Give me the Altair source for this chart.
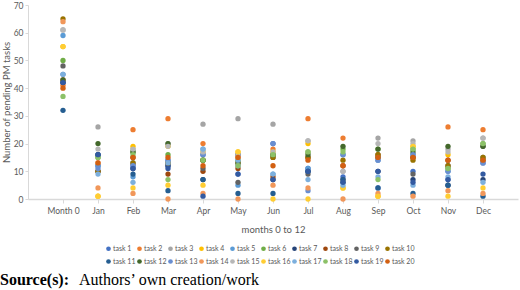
import altair as alt
import pandas as pd

months = ["Month 0", "Jan", "Feb", "Mar", "Apr", "May", "Jun", "Jul", "Aug", "Sep", "Oct", "Nov", "Dec"]
tasks = [f"task {i}" for i in range(1, 21)]
colors = ["#4472C4", "#ED7D31", "#A5A5A5", "#FFC000", "#5B9BD5", "#70AD47", "#264478", "#9E480E",
          "#636363", "#997300", "#255E91", "#43682B", "#698ED0", "#F1975A", "#B7B7B7", "#FFCD33",
          "#7CAFDD", "#8CC168", "#335AA1", "#D26012"]

# values per task, Month 0 .. Dec
task_1 = [42, 12, 12, 12, 16, 9, 20, 11, 8, 4, 10, 7, 13]
task_2 = [41, 13, 25, 29, 20, 15, 18, 29, 22, 15, 15, 26, 25]
task_3 = [61, 26, 18, 20, 27, 29, 27, 21, 10, 22, 21, 18, 22]
task_4 = [55, 1, 19, 19, 17, 17, 17, 20, 4, 1, 19, 16, 15]
task_5 = [59, 12, 8, 14, 18, 5, 9, 11, 16, 14, 16, 10, 15]
task_6 = [50, 15, 17, 16, 14, 14, 16, 17, 18, 18, 18, 11, 20]
task_7 = [42, 16, 11, 12, 7, 16, 7, 10, 6, 10, 7, 5, 7]
task_8 = [43, 10, 15, 9, 10, 11, 8, 15, 12, 16, 15, 14, 14]
task_9 = [48, 10, 13, 13, 11, 6, 15, 9, 7, 15, 9, 12, 19]
task_10 = [65, 10, 13, 13, 14, 13, 15, 15, 14, 16, 14, 12, 15]
task_11 = [32, 16, 9, 3, 7, 2, 2, 10, 7, 4, 2, 5, 1]
task_12 = [43, 20, 17, 20, 14, 13, 16, 16, 19, 18, 17, 19, 19]
task_13 = [45, 11, 12, 14, 16, 12, 20, 3, 16, 14, 16, 10, 13]
task_14 = [64, 4, 2, 0, 2, 0, 5, 4, 0, 2, 1, 3, 2]
task_15 = [61, 18, 18, 19, 17, 16, 17, 21, 10, 20, 20, 17, 22]
task_16 = [55, 1, 4, 5, 5, 17, 0, 0, 4, 1, 19, 1, 4]
task_17 = [45, 9, 6, 13, 18, 14, 9, 7, 5, 8, 5, 8, 6]
task_18 = [37, 15, 16, 7, 14, 12, 16, 17, 17, 7, 18, 11, 20]
task_19 = [42, 16, 11, 11, 1, 9, 7, 10, 6, 10, 6, 7, 9]
task_20 = [40, 13, 15, 15, 12, 15, 12, 14, 12, 15, 15, 14, 14]

series = [task_1, task_2, task_3, task_4, task_5, task_6, task_7, task_8, task_9, task_10,
          task_11, task_12, task_13, task_14, task_15, task_16, task_17, task_18, task_19, task_20]

rows = []
for i, (t, vals) in enumerate(zip(tasks, series)):
    for m, v in zip(months, vals):
        rows.append({"task": t, "month": m, "value": v, "order": i})
df = pd.DataFrame(rows)

FONT = "Lato"
GRAY = "#595959"

points = alt.Chart(df).mark_point(filled=True, size=28, opacity=1, shape="circle").encode(
    x=alt.X("month:N", sort=months,
            scale=alt.Scale(type="point", padding=1),
            axis=alt.Axis(title="months 0 to 12", labelAngle=0, labelColor=GRAY, labelFont=FONT,
                          labelFontSize=8.5, titleFont=FONT, titleFontSize=9.5, titleFontWeight="normal",
                          titleColor=GRAY, titlePadding=10, domainColor="#D9D9D9", domainWidth=1.5,
                          tickColor="#D9D9D9", tickSize=4, labelPadding=3, grid=False)),
    y=alt.Y("value:Q", scale=alt.Scale(domain=[0, 70], nice=False),
            axis=alt.Axis(title="Number of pending PM tasks", values=list(range(0, 71, 10)),
                          labelColor=GRAY, labelFont=FONT, labelFontSize=8.5, titleFont=FONT,
                          titleFontSize=9.5, titleFontWeight="normal", titleColor=GRAY,
                          titleX=-17,
                          domainColor="#D9D9D9", ticks=True, tickSize=3, tickColor="#D9D9D9",
                          labelPadding=2, grid=False)),
    color=alt.Color("task:N", sort=tasks, scale=alt.Scale(domain=tasks, range=colors),
                    legend=alt.Legend(title=None, orient="none", legendX=77, legendY=240,
                                      direction="horizontal", columns=10, symbolType="circle",
                                      symbolSize=22, labelFont=FONT, labelFontSize=7,
                                      labelColor=GRAY, columnPadding=-1, rowPadding=5,
                                      labelOffset=1, symbolStrokeWidth=0)),
    order=alt.Order("order:Q"),
)

src_bold = pd.DataFrame({"t": ["Source(s):"]})
src_norm = pd.DataFrame({"t": ["Authors’ own creation/work"]})

bold_text = alt.Chart(src_bold).mark_text(font="Liberation Serif", fontSize=16, fontWeight="bold",
                                          align="left", baseline="middle", color="black").encode(
    text="t:N", x=alt.value(-28), y=alt.value(275))
norm_text = alt.Chart(src_norm).mark_text(font="Liberation Serif", fontSize=16, fontWeight="normal",
                                          align="left", baseline="middle", color="black").encode(
    text="t:N", x=alt.value(51), y=alt.value(275))

chart = alt.layer(points, bold_text, norm_text).properties(
    width=490, height=194,
    autosize=alt.AutoSizeParams(type="none"),
    padding={"left": 28, "top": 5, "right": 2, "bottom": 91},
).configure_view(stroke=None)

chart.save("out.html", embed_options={"renderer": "svg", "actions": False})
